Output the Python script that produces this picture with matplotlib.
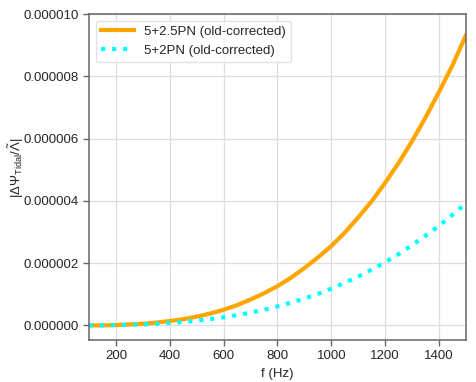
import numpy as np
import matplotlib
matplotlib.use("Agg")
import matplotlib.pyplot as plt
from matplotlib.ticker import FormatStrFormatter

plt.rcParams['font.family'] = ['Liberation Sans', 'DejaVu Sans']
plt.rcParams['mathtext.fontset'] = 'custom'
plt.rcParams['mathtext.rm'] = 'Liberation Sans'
plt.rcParams['mathtext.it'] = 'Liberation Sans:italic'
plt.rcParams['text.color'] = '.15'
plt.rcParams['axes.labelcolor'] = '.15'
plt.rcParams['xtick.labelcolor'] = '.15'
plt.rcParams['ytick.labelcolor'] = '.15'

# frequency (Hz) and |dPsi/Lambda|, in units of 1e-6
freq = [100, 150, 200, 250, 300, 350, 400, 450, 500, 550, 600, 650, 700, 750, 800,
        850, 900, 950, 1000, 1050, 1100, 1150, 1200, 1250, 1300, 1350, 1400, 1450, 1500]
pn25 = [0.00, 0.00, 0.01, 0.03, 0.05, 0.09, 0.14, 0.20, 0.28, 0.38, 0.50, 0.65, 0.83, 1.03, 1.26,
        1.53, 1.84, 2.18, 2.55, 2.98, 3.47, 3.99, 4.58, 5.22, 5.92, 6.68, 7.50, 8.36, 9.32]
pn2 = [0.00, 0.00, 0.01, 0.02, 0.03, 0.05, 0.08, 0.11, 0.15, 0.20, 0.26, 0.33, 0.41, 0.50, 0.61,
       0.73, 0.86, 1.01, 1.18, 1.37, 1.57, 1.79, 2.03, 2.29, 2.58, 2.88, 3.20, 3.55, 3.92]

f = np.array(freq)
y25 = np.array(pn25) * 1e-6
y2 = np.array(pn2) * 1e-6

fig = plt.figure(figsize=(4.77, 3.82), dpi=100)
ax = fig.add_axes([89/477, 1 - 340/382, (466-89)/477, (340-14)/382])

ax.plot(f, y25, color='orange', lw=3, label='5+2.5PN (old-corrected)')
ax.plot(f, y2, color='cyan', lw=3, ls=':', label='5+2PN (old-corrected)')

ax.set_xlim(100, 1500)
ax.set_ylim(-0.47e-6, 1e-5)
ax.set_xticks([200, 400, 600, 800, 1000, 1200, 1400])
ax.set_yticks([0, 2e-6, 4e-6, 6e-6, 8e-6, 1e-5])
ax.yaxis.set_major_formatter(FormatStrFormatter('%.6f'))
ax.grid(True, color='#dddddd', lw=0.9)
ax.set_axisbelow(True)
for s in ax.spines.values():
    s.set_color('#666666')
    s.set_linewidth(1.1)
ax.tick_params(labelsize=9.5, color='#666666', length=4, width=1)

ax.set_xlabel('f (Hz)', fontsize=9.5)
ax.set_ylabel(r'$|\Delta\mathrm{\Psi}_{\mathrm{Tidal}}/\tilde{\mathrm{\Lambda}}|$', fontsize=9.5)
ax.yaxis.set_label_coords(-0.168, 0.53)

leg = ax.legend(loc='upper left', fontsize=9.5, frameon=True, fancybox=True,
                edgecolor='#dddddd', handlelength=2.5)

fig.savefig('out.png', dpi=100)
